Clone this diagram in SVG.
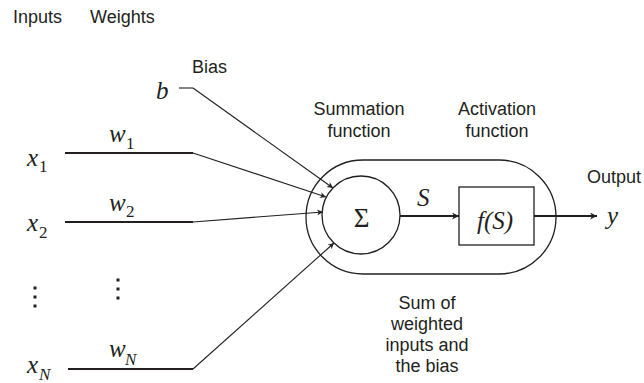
<svg xmlns="http://www.w3.org/2000/svg" width="644" height="383" viewBox="0 0 644 383">
<style>
.lbl{font-family:"Liberation Sans",Arial,sans-serif;font-size:18px;fill:#231f20}
.m{font-family:"Liberation Serif","Times New Roman",serif;font-style:italic;font-size:25px;fill:#231f20}
.sub{font-family:"Liberation Serif","Times New Roman",serif;font-style:normal;font-size:17px;fill:#231f20}
.subi{font-family:"Liberation Serif","Times New Roman",serif;font-style:italic;font-size:17px;fill:#231f20}
.thick{stroke:#231f20;stroke-width:2.2;fill:none}
.thin{stroke:#231f20;stroke-width:1.1;fill:none}
.shape{stroke:#231f20;stroke-width:1.3;fill:none}
.dot{fill:#231f20}
</style>
<defs>
<marker id="ah" viewBox="0 0 10 10" refX="10" refY="5" markerWidth="8" markerHeight="6" markerUnits="userSpaceOnUse" orient="auto">
<path d="M0,0 L10,5 L0,10 L3,5 z" fill="#231f20"/>
</marker>
<marker id="ahb" viewBox="0 0 10 10" refX="10" refY="5" markerWidth="9" markerHeight="7" markerUnits="userSpaceOnUse" orient="auto">
<path d="M0,0 L10,5 L0,10 L3,5 z" fill="#231f20"/>
</marker>
</defs>

<g id="headers">
<text class="lbl" x="13" y="23">Inputs</text>
<text class="lbl" x="90" y="23">Weights</text>
</g>

<g id="bias">
<text class="m" x="156" y="99" font-size="27">b</text>
<text class="lbl" x="192" y="73">Bias</text>
</g>

<g id="input1">
<text class="m" x="27" y="166">x</text><text class="sub" x="39" y="172">1</text>
<text class="m" x="109" y="142">w</text><text class="sub" x="126" y="149">1</text>
</g>
<g id="input2">
<text class="m" x="27" y="231">x</text><text class="sub" x="39" y="238">2</text>
<text class="m" x="109" y="211">w</text><text class="sub" x="126" y="217">2</text>
</g>
<g id="inputN">
<text class="m" x="27" y="373">x</text><text class="subi" x="39" y="380">N</text>
<text class="m" x="109" y="357">w</text><text class="subi" x="125" y="365">N</text>
</g>
<g id="ellipsis">
<rect class="dot" x="33.5" y="286.5" width="3" height="3"/>
<rect class="dot" x="33.5" y="295.5" width="3" height="3"/>
<rect class="dot" x="33.5" y="304.5" width="3" height="3"/>
<rect class="dot" x="116.5" y="278.5" width="3" height="3"/>
<rect class="dot" x="116.5" y="287.5" width="3" height="3"/>
<rect class="dot" x="116.5" y="296.5" width="3" height="3"/>
</g>

<g id="neuron">
<rect class="shape" x="306" y="160" width="250" height="114" rx="57" ry="57"/>
<text class="lbl" x="359" y="115" text-anchor="middle">Summation</text>
<text class="lbl" x="359" y="137" text-anchor="middle">function</text>
<text class="lbl" x="497" y="115" text-anchor="middle">Activation</text>
<text class="lbl" x="497" y="137" text-anchor="middle">function</text>
<text class="lbl" x="427" y="309" text-anchor="middle">Sum of</text>
<text class="lbl" x="427" y="330" text-anchor="middle">weighted</text>
<text class="lbl" x="427" y="351" text-anchor="middle">inputs and</text>
<text class="lbl" x="427" y="372" text-anchor="middle">the bias</text>
</g>

<g id="summation">
<circle class="shape" cx="361" cy="215" r="39"/>
<text x="361.5" y="227" text-anchor="middle" style="font-family:'Liberation Serif','Times New Roman',serif;font-size:27px;fill:#231f20">Σ</text>
</g>

<g id="activation">
<rect class="shape" x="459" y="187" width="75" height="58"/>
<text class="m" x="495" y="229" text-anchor="middle">f(S)</text>
</g>

<g id="output">
<text class="lbl" x="587" y="183">Output</text>
<text class="m" x="607" y="224">y</text>
</g>

<g id="connectors">
<path class="thin" d="M179,88 H193" stroke-width="2"/>
<path class="thin" d="M193,88 L333,188" marker-end="url(#ah)"/>
<path class="thick" d="M65,153 H193"/>
<path class="thin" d="M193,153 L326,197" marker-end="url(#ah)"/>
<path class="thick" d="M65,222 H193"/>
<path class="thin" d="M193,222 L323,212" marker-end="url(#ah)"/>
<path class="thick" d="M68,369 H193"/>
<path class="thin" d="M193,369 L334,243" marker-end="url(#ah)"/>
<path class="thick" d="M400,216 H459" stroke-width="1.8" marker-end="url(#ahb)"/>
<text class="m" x="417" y="206">S</text>
<path class="thick" d="M534,216 H597" stroke-width="1.8" marker-end="url(#ahb)"/>
</g>
</svg>
